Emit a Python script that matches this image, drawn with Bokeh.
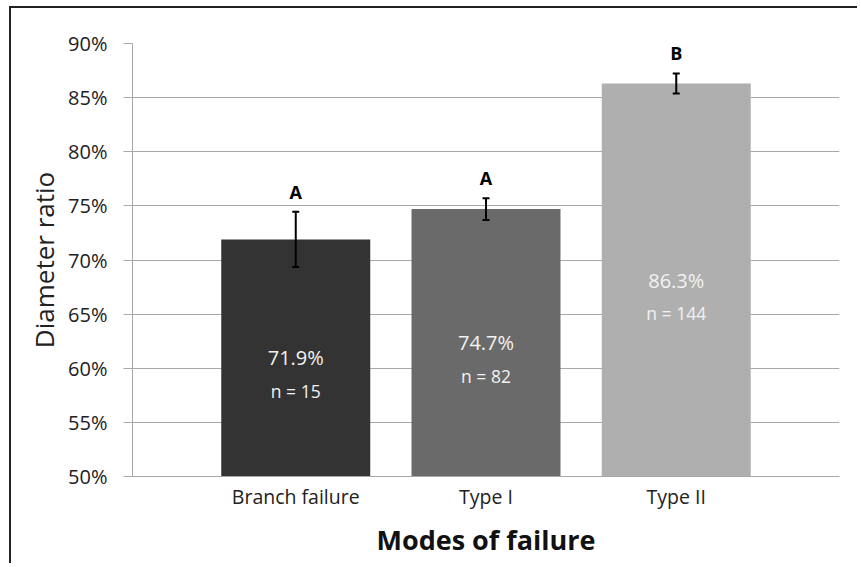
from bokeh.plotting import figure
from bokeh.models import ColumnDataSource, FactorRange, FixedTicker, PrintfTickFormatter, Whisker, TeeHead
from bokeh.core.properties import value
from bokeh.embed import file_html
from bokeh.resources import INLINE

# ---- data ----
modes = ["Branch failure", "Type I", "Type II"]
ratio = [71.9, 74.7, 86.3]          # diameter ratio, %
err = [2.55, 1.0, 0.93]             # error bar half-length, %
counts = [15, 82, 144]
groups = ["A", "A", "B"]
colors = ["#333333", "#6a6a6a", "#afafaf"]
y_ticks = [50, 55, 60, 65, 70, 75, 80, 85, 90]

FONT = "Open Sans"

src = ColumnDataSource(dict(
    x=modes,
    top=ratio,
    upper=[r + e for r, e in zip(ratio, err)],
    lower=[r - e for r, e in zip(ratio, err)],
    mid=[(50 + r) / 2 for r in ratio],
    pct=[f"{r:.1f}%" for r in ratio],
    n=[f"n = {c}" for c in counts],
    grp=groups,
    color=colors,
))

p = figure(
    width=848, height=557,
    x_range=FactorRange(*modes, range_padding=0.2387, range_padding_units="percent"),
    y_range=(50, 90),
    output_backend="svg", toolbar_location=None,
    min_border_left=121, min_border_right=20, min_border_top=35, min_border_bottom=89,
    styles={"margin-left": "9px", "margin-top": "6px",
            "border-top": "2px solid #222222", "border-left": "2px solid #222222"},
)
p.outline_line_color = None
p.background_fill_color = "white"
p.border_fill_color = "white"

p.vbar(x="x", top="top", bottom=50, width=0.783, source=src,
       fill_color="color", line_color=None)

p.add_layout(Whisker(base="x", upper="upper", lower="lower", source=src, level="annotation",
                     line_color="black", line_width=2,
                     upper_head=TeeHead(size=7, line_color="black", line_width=2),
                     lower_head=TeeHead(size=7, line_color="black", line_width=2)))

p.text(x="x", y="upper", text="grp", source=src, y_offset=-20,
       text_align="center", text_baseline="middle",
       text_font=value(FONT), text_font_size="18px", text_font_style="bold",
       text_color="black")
p.text(x="x", y="mid", text="pct", source=src,
       text_align="center", text_baseline="middle",
       text_font=value(FONT), text_font_size="20px", text_color="#f2f2f2")
p.text(x="x", y="mid", text="n", source=src, y_offset=33,
       text_align="center", text_baseline="middle",
       text_font=value(FONT), text_font_size="17.5px", text_color="#f2f2f2")

# grid
p.xgrid.grid_line_color = None
p.ygrid.grid_line_color = "#a8a8a8"
p.ygrid.grid_line_width = 1

# y axis
ya = p.yaxis[0]
ya.ticker = FixedTicker(ticks=y_ticks)
ya.formatter = PrintfTickFormatter(format="%d%%")
ya.axis_line_color = "#a8a8a8"
ya.major_tick_line_color = "#a8a8a8"
ya.major_tick_out = 9
ya.major_tick_in = 0
ya.minor_tick_line_color = None
ya.major_label_standoff = 16
ya.major_label_text_font = FONT
ya.major_label_text_font_size = "20px"
ya.major_label_text_color = "#222222"
ya.axis_label = "Diameter ratio"
ya.axis_label_text_font = FONT
ya.axis_label_text_font_size = "26px"
ya.axis_label_text_font_style = "normal"
ya.axis_label_text_color = "#222222"
ya.axis_label_standoff = 3

# x axis
xa = p.xaxis[0]
xa.axis_line_color = "#a8a8a8"
xa.major_tick_line_color = None
xa.major_tick_out = 0
xa.major_tick_in = 0
xa.minor_tick_line_color = None
xa.major_label_standoff = 6
xa.major_label_text_font = FONT
xa.major_label_text_font_size = "19.5px"
xa.major_label_text_color = "#222222"
xa.axis_label = "Modes of failure"
xa.axis_label_text_font = FONT
xa.axis_label_text_font_size = "27px"
xa.axis_label_text_font_style = "bold"
xa.axis_label_text_color = "#111111"
xa.axis_label_standoff = 8

open("out.html", "w").write(file_html(p, INLINE))
